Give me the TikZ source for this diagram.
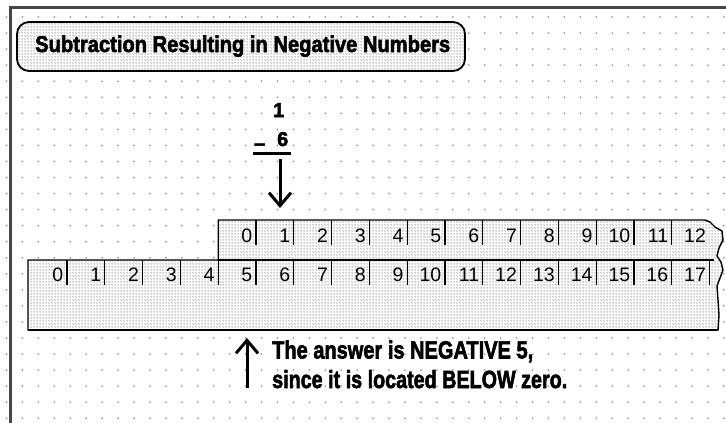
\documentclass[tikz,border=0pt]{standalone}
\usepackage{fontspec}
\setmainfont{Liberation Sans}
\newfontfamily\heavyfont{Liberation Sans}[BoldFeatures={FakeBold=2.5}]
\usetikzlibrary{arrows.meta,patterns.meta}
\tikzdeclarepattern{
  name=stipple,
  type=uncolored,
  bottom left={(0pt,0pt)},
  top right={(2.5pt,2.5pt)},
  tile size={(2.5pt,2.5pt)},
  code={\fill (1.25pt,1.25pt) circle (0.68pt);}
}
\begin{document}
\begin{tikzpicture}[x=1pt,y=-1pt,
  framel/.style={draw=black!72, line width=2.5pt},
  griddot/.style={fill=black!40},
  stip/.style={preaction={fill=white}, pattern=stipple, pattern color=black!72},
  stripedge/.style={draw=black, line width=1.4pt},
  tickline/.style={draw=black, line width=1.3pt},
  num/.style={font=\fontsize{19.5}{19.5}\selectfont, inner sep=0pt, anchor=base east},
  boldtxt/.style={inner sep=0pt, anchor=base west, font=\heavyfont\bfseries},
  mathtxt/.style={inner sep=0pt, anchor=base east, font=\fontsize{20}{20}\selectfont\heavyfont\bfseries},
  arr/.style={draw=black, line width=3pt, -{Straight Barb[length=13pt,width=22pt]}}
]
\useasboundingbox (0,0) rectangle (726,423);
\fill[white] (0,0) rectangle (726,423);
% dot grid
\foreach \i in {0,...,45}{\foreach \j in {0,...,25}{
  \fill[griddot] ({6.5+15.94*\i},{17+16.05*\j}) circle (1pt);}}
% frame
\draw[framel] (10.5,423) -- (10.5,7.5) -- (726,7.5);
% title
\draw[stip, draw=black, line width=1.8pt, rounded corners=12pt] (17,22) rectangle (465,71);
\node[boldtxt] (title) at (35,52) {\resizebox{415pt}{16.5pt}{\heavyfont\bfseries Subtraction Resulting in Negative Numbers}};
% subtraction
\node[mathtxt] (one) at (284.5,117) {1};
\node[mathtxt] (minussix) at (288.5,146) {\raisebox{-4pt}{–}\hspace{12pt}6};
\draw[line width=2.5pt] (253,153.5) -- (291,153.5);
\coordinate (dstart) at (280,159);
\coordinate (dtip) at (280,208);
\draw[arr] (dstart) -- (dtip);
% strips
\draw[stip, stripedge] (28,260) -- (218.2,260) -- (218.2,220) -- (705,220) -- (710,222) -- (715,227)
  -- (722,231) -- (723,240) -- (719,248) -- (717,256) -- (721,262) -- (723,270) -- (720,278)
  -- (717,286) -- (718,300) -- (719,315) -- (718,330) -- (28,330) -- cycle;
\draw[stripedge] (218.2,260) -- (714,260);
\draw[line width=2pt] (28,330) -- (718,330);
\foreach \m in {0,...,11}{\draw[tickline] ({256+37.8*\m},220) -- ++(0,25);}
\foreach \n in {0,...,17}{\draw[tickline] ({67+37.8*\n},260) -- ++(0,25);}
\foreach \m in {0,...,12}{\node[num] (u\m) at ({256+37.8*\m-3.5},242) {\m};}
\foreach \n in {0,...,17}{\node[num] (l\n) at ({67+37.8*\n-3.5},281) {\n};}
% answer
\coordinate (ustart) at (247,388);
\coordinate (utip) at (247,338);
\draw[arr] (ustart) -- (utip);
\node[boldtxt] (ansone) at (272,358.5) {\resizebox{261pt}{18pt}{\heavyfont\bfseries The answer is NEGATIVE 5,}};
\node[boldtxt] (anstwo) at (272,388) {\resizebox{295pt}{18pt}{\heavyfont\bfseries since it is located BELOW zero.}};
\end{tikzpicture}
\end{document}
